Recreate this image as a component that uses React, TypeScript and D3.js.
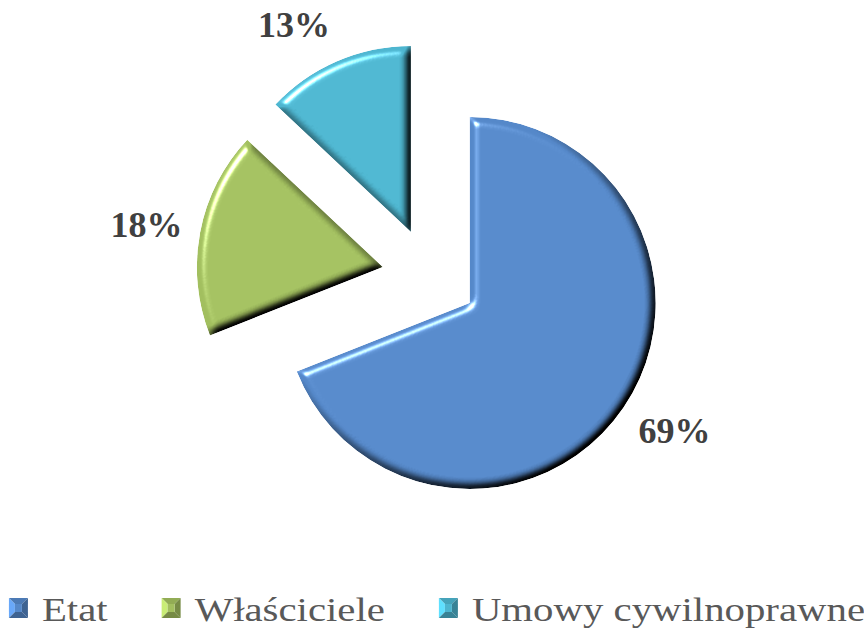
import React, { useEffect, useRef } from "react";
import * as d3 from "d3";

// chart data
const categories = ["Etat", "Właściciele", "Umowy cywilnoprawne"];
const shares = [69, 18, 13];
const shareLabels = ["69%", "18%", "13%"];
const colors = ["#5588c9", "#a2bf5f", "#4db5cf"];

const W = 864;
const H = 631;
const serif = "Liberation Serif";

export default function App() {
  const svgRef = useRef<SVGSVGElement>(null);

  useEffect(() => {
    const svg = d3.select(svgRef.current);
    svg.selectAll("*").remove();

    const cx = 430;
    const cy = 276;
    const radius = 186;
    const explode = 48;

    // bevel filter: diffuse shading multiplied in, specular highlight added
    const defs = svg.append("defs");
    const f = defs.append("filter").attr("id", "bevel")
      .attr("color-interpolation-filters", "sRGB")
      .attr("x", "-10%").attr("y", "-10%").attr("width", "120%").attr("height", "120%");
    f.append("feGaussianBlur").attr("in", "SourceAlpha").attr("stdDeviation", 4.2).attr("result", "blur");
    f.append("feDiffuseLighting").attr("in", "blur").attr("surfaceScale", 6)
      .attr("diffuseConstant", 1.414).attr("lighting-color", "#fff").attr("result", "diff")
      .append("feDistantLight").attr("azimuth", 225).attr("elevation", 45);
    f.append("feComposite").attr("in", "SourceGraphic").attr("in2", "diff")
      .attr("operator", "arithmetic").attr("k1", 1).attr("k2", 0).attr("k3", 0).attr("k4", 0)
      .attr("result", "shaded");
    f.append("feSpecularLighting").attr("in", "blur").attr("surfaceScale", 6)
      .attr("specularConstant", 0.9).attr("specularExponent", 40)
      .attr("lighting-color", "#ffffff").attr("result", "spec")
      .append("feDistantLight").attr("azimuth", 225).attr("elevation", 40);
    f.append("feComposite").attr("in", "spec").attr("in2", "SourceAlpha")
      .attr("operator", "in").attr("result", "specIn");
    f.append("feComposite").attr("in", "shaded").attr("in2", "specIn")
      .attr("operator", "arithmetic").attr("k1", 0).attr("k2", 1).attr("k3", 1).attr("k4", 0)
      .attr("result", "lit");
    f.append("feComposite").attr("in", "lit").attr("in2", "SourceAlpha").attr("operator", "in");

    const pie = d3.pie<number>().sort(null).value(d => d);
    const arcs = pie(shares);
    const arc = d3.arc<d3.PieArcDatum<number>>().innerRadius(0).outerRadius(radius);

    const dir = (a: number) => [Math.sin(a), -Math.cos(a)];

    const g = svg.append("g").attr("transform", `translate(${cx},${cy})`);

    arcs.forEach((a, i) => {
      const mid = (a.startAngle + a.endAngle) / 2;
      const [dx, dy] = dir(mid);
      g.append("path")
        .attr("d", arc(a))
        .attr("transform", `translate(${dx * explode},${dy * explode})`)
        .attr("fill", colors[i])
        .attr("filter", "url(#bevel)");
    });

    // data labels outside end
    const pad = 18;
    arcs.forEach((a, i) => {
      const mid = (a.startAngle + a.endAngle) / 2;
      const [dx, dy] = dir(mid);
      const ax = dx * (explode + radius + pad);
      const ay = dy * (explode + radius + pad);
      const t = g.append("text")
        .attr("text-anchor", "middle")
        .attr("font-family", serif)
        .attr("font-weight", "bold")
        .attr("font-size", 36)
        .attr("fill", "#404040")
        .text(shareLabels[i]);
      const hw = (t.node() as SVGTextElement).getComputedTextLength() / 2;
      const hh = 20;
      const m = Math.max(Math.abs(dx), Math.abs(dy));
      const lx = ax + Math.sign(dx) * hw;
      const ly = ay + (dy / m) * hh;
      t.attr("x", lx).attr("y", ly + 12);
    });

    // legend
    const stretch = 1.2;
    const mw = 19;
    const mh = 20;
    const gapMarker = 14;
    const gapItem = 54;
    const legendY = 598;
    const leg = svg.append("g");
    const items = categories.map((c, i) => {
      const ig = leg.append("g");
      const tg = ig.append("g");
      const t = tg.append("text")
        .attr("font-family", serif)
        .attr("font-size", 34)
        .attr("fill", "#595959")
        .text(c);
      const w = (t.node() as SVGTextElement).getComputedTextLength() * stretch;
      return { ig, tg, w, i };
    });
    const total = d3.sum(items, d => mw + gapMarker + d.w) + gapItem * (items.length - 1);
    let x = 437 - total / 2;
    items.forEach(({ ig, tg, w, i }) => {
      const base = d3.color(colors[i])!;
      const light = base.brighter(0.6).formatHex();
      const dark = base.darker(0.9).formatHex();
      const mid = base.darker(0.3).formatHex();
      const ins = 6;
      const x0 = x, y0 = legendY, x1 = x + mw, y1 = legendY + mh;
      const polys: [number, number][][] = [
        [[x0, y0], [x1, y0], [x1 - ins, y0 + ins], [x0 + ins, y0 + ins]],
        [[x0, y0], [x0 + ins, y0 + ins], [x0 + ins, y1 - ins], [x0, y1]],
        [[x1, y0], [x1, y1], [x1 - ins, y1 - ins], [x1 - ins, y0 + ins]],
        [[x0, y1], [x0 + ins, y1 - ins], [x1 - ins, y1 - ins], [x1, y1]],
      ];
      const fills = [mid, light, dark, dark];
      polys.forEach((p, k) => {
        ig.append("polygon").attr("points", p.map(q => q.join(",")).join(" ")).attr("fill", fills[k]);
      });
      ig.append("rect").attr("x", x0 + ins).attr("y", y0 + ins)
        .attr("width", mw - 2 * ins).attr("height", mh - 2 * ins).attr("fill", colors[i]);
      tg.attr("transform", `translate(${x + mw + gapMarker},621) scale(${stretch},1)`);
      x += mw + gapMarker + w + gapItem;
    });
  }, []);

  return (
    <svg
      ref={svgRef}
      width={W}
      height={H}
      style={{ position: "absolute", left: 0, top: 0, background: "#fff" }}
    />
  );
}
